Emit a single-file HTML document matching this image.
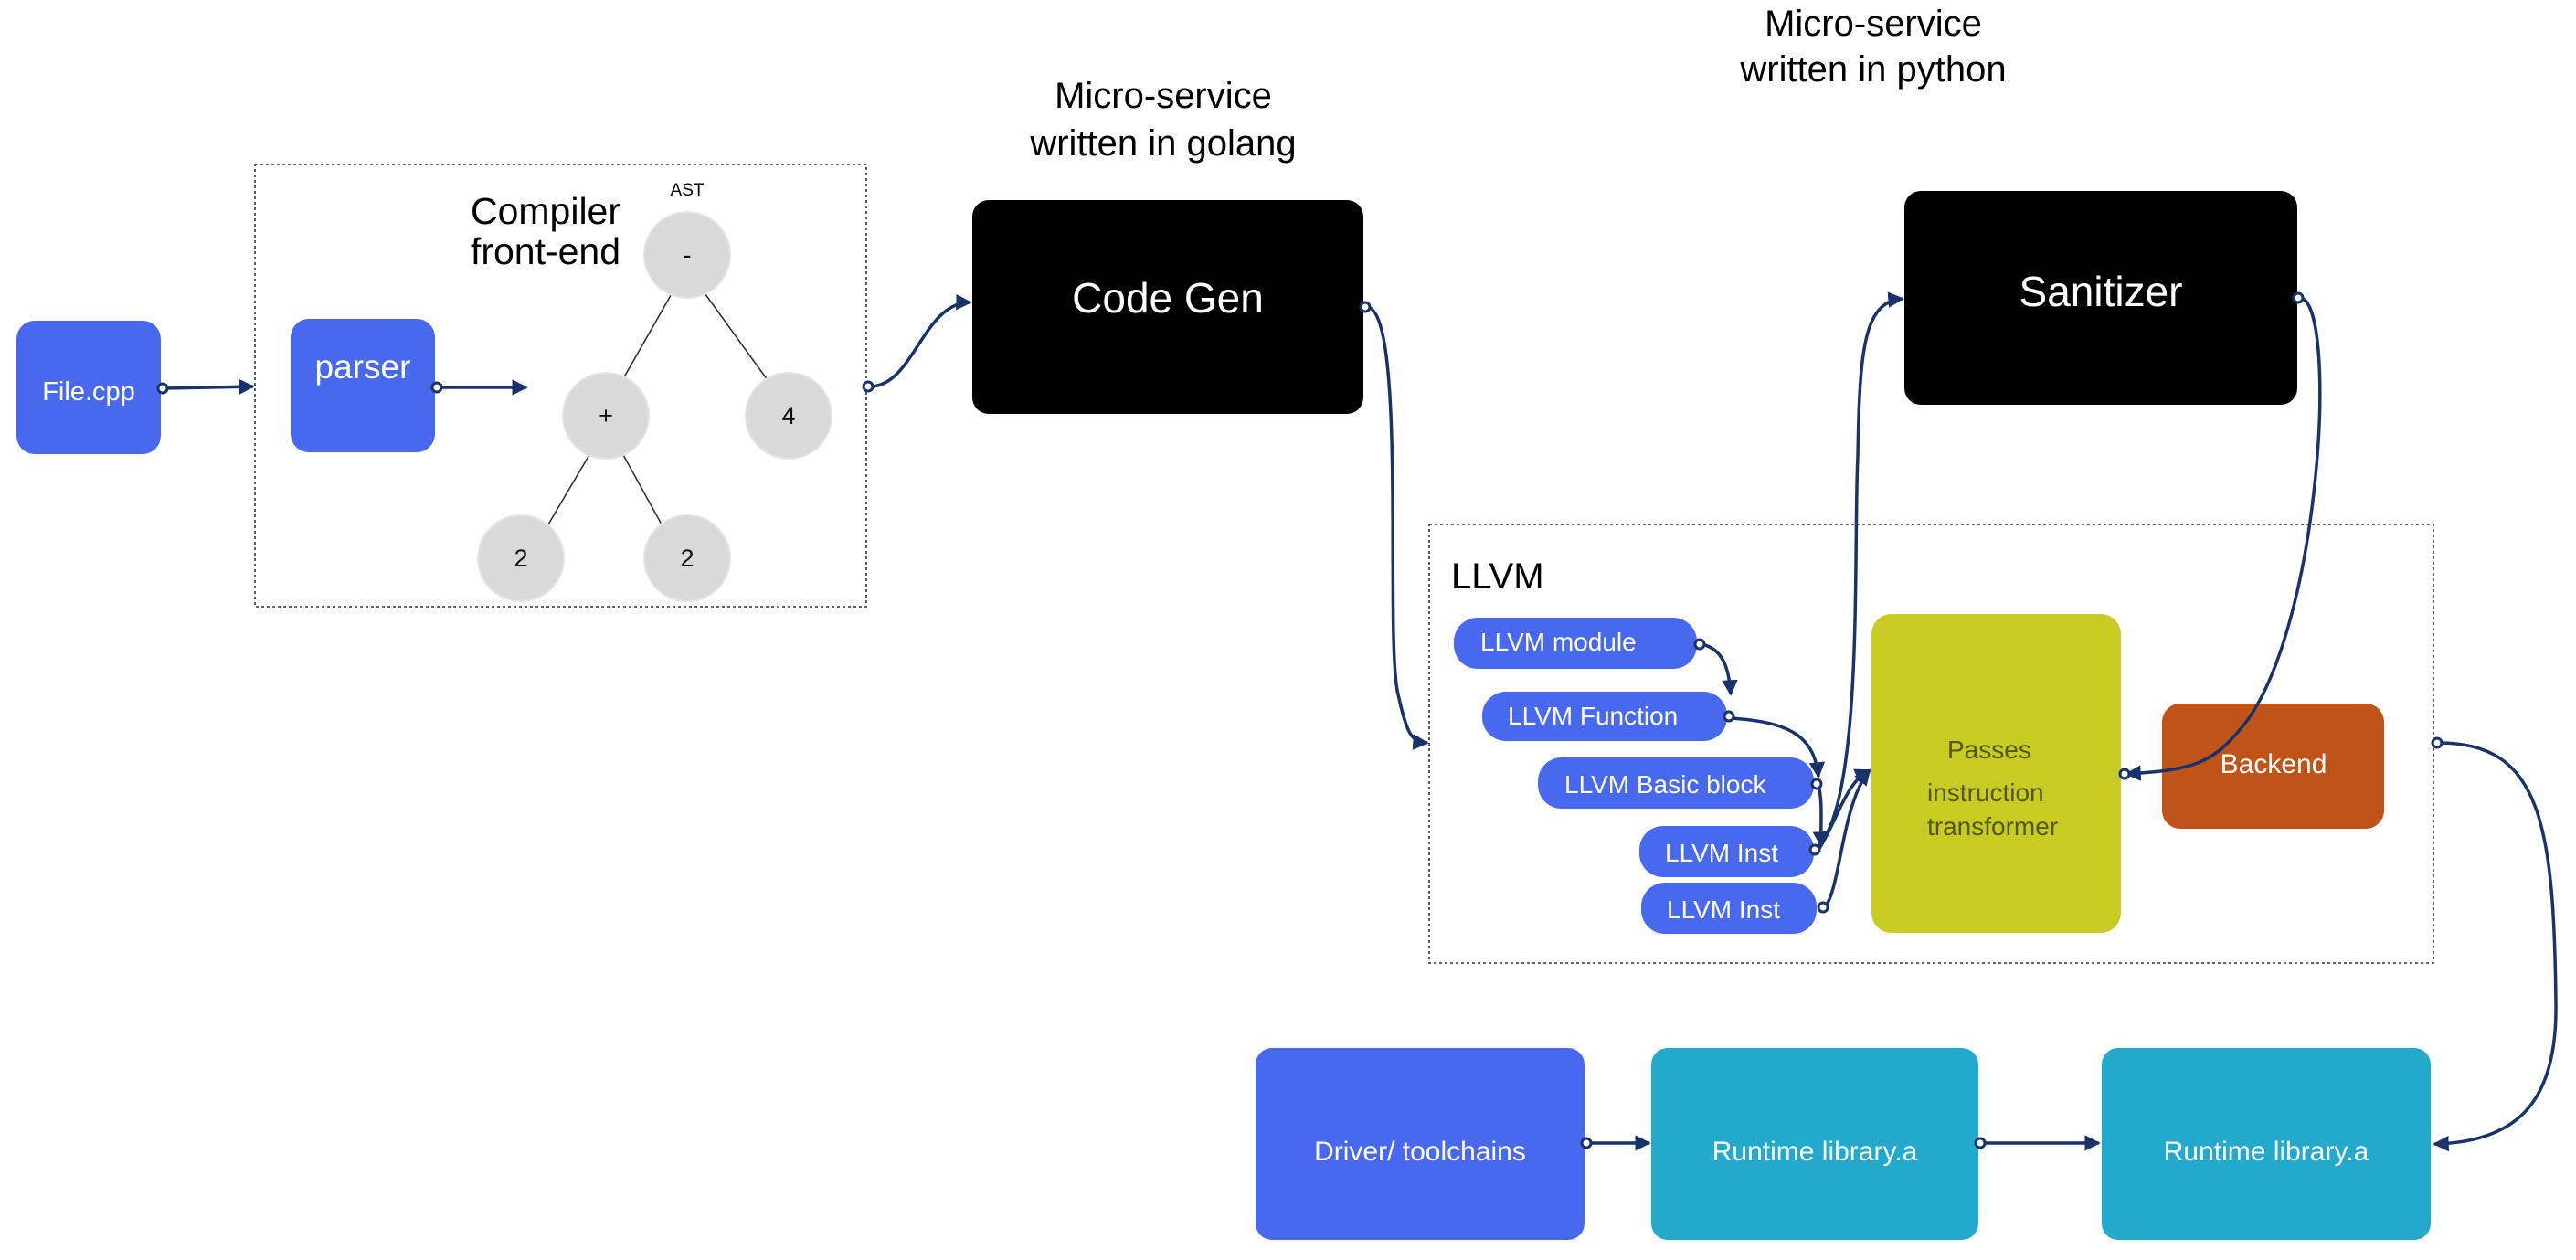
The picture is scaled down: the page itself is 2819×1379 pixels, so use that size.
<!DOCTYPE html>
<html><head><meta charset="utf-8"><style>
html,body{margin:0;padding:0;background:#fff;}
svg{display:block;font-family:"Liberation Sans",sans-serif;}
</style></head><body>
<svg width="2819" height="1379" viewBox="0 0 2819 1379" xmlns="http://www.w3.org/2000/svg">
<defs>
<marker id="ah" viewBox="0 0 10 10" refX="9" refY="5" markerWidth="5" markerHeight="5" orient="auto-start-reverse" markerUnits="strokeWidth">
<path d="M0,0 L10,5 L0,10 z" fill="#17336a"/></marker>
</defs>
<rect width="2819" height="1379" fill="#fff"/>

<rect x="279" y="180" width="669" height="484" fill="none" stroke="#333" stroke-width="1.6" stroke-dasharray="3,3"/>
<rect x="1564" y="574" width="1099" height="480" fill="none" stroke="#333" stroke-width="1.6" stroke-dasharray="3,3"/>

<rect x="18" y="351" width="158" height="146" rx="20" fill="#4869ee"/>
<text x="97" y="438" font-size="29" fill="#fff" text-anchor="middle">File.cpp</text>
<rect x="318" y="349" width="158" height="146" rx="20" fill="#4869ee"/>
<text x="397" y="414" font-size="37" fill="#fff" text-anchor="middle">parser</text>

<text x="597" y="245" font-size="41" fill="#000" text-anchor="middle">Compiler</text>
<text x="597" y="289" font-size="41" fill="#000" text-anchor="middle">front-end</text>
<text x="752" y="214" font-size="19" fill="#000" text-anchor="middle">AST</text>

<g stroke="#333" stroke-width="1.6">
<line x1="737" y1="318" x2="680" y2="418"/>
<line x1="769" y1="318" x2="840" y2="416"/>
<line x1="646" y1="496" x2="600" y2="574"/>
<line x1="681" y1="496" x2="724" y2="574"/>
</g>
<g fill="#d9d9d9" stroke="#e4e4e4" stroke-width="2">
<circle cx="752" cy="279" r="47"/>
<circle cx="663" cy="455" r="47"/>
<circle cx="863" cy="455" r="47"/>
<circle cx="570" cy="611" r="47"/>
<circle cx="752" cy="611" r="47"/>
</g>
<g font-size="27" fill="#111" text-anchor="middle">
<text x="752" y="288">-</text>
<text x="663" y="464">+</text>
<text x="863" y="464">4</text>
<text x="570" y="620">2</text>
<text x="752" y="620">2</text>
</g>

<text x="1273" y="118" font-size="40" fill="#000" text-anchor="middle">Micro-service</text>
<text x="1273" y="170" font-size="40" fill="#000" text-anchor="middle">written in golang</text>
<text x="2050" y="39" font-size="40" fill="#000" text-anchor="middle">Micro-service</text>
<text x="2050" y="89" font-size="40" fill="#000" text-anchor="middle">written in python</text>

<rect x="1064" y="219" width="428" height="234" rx="18" fill="#000"/>
<text x="1278" y="342" font-size="46" fill="#fff" text-anchor="middle">Code Gen</text>
<rect x="2084" y="209" width="430" height="234" rx="18" fill="#000"/>
<text x="2299" y="335" font-size="46" fill="#fff" text-anchor="middle">Sanitizer</text>

<text x="1588" y="644" font-size="40" fill="#000">LLVM</text>
<g fill="#4869ee">
<rect x="1591" y="676" width="266" height="56" rx="26"/>
<rect x="1622" y="757" width="268" height="54" rx="26"/>
<rect x="1683" y="829" width="302" height="56" rx="26"/>
<rect x="1794" y="904" width="191" height="56" rx="26"/>
<rect x="1796" y="966" width="192" height="56" rx="26"/>
</g>
<g font-size="28" fill="#fff">
<text x="1620" y="712">LLVM module</text>
<text x="1650" y="793">LLVM Function</text>
<text x="1712" y="868">LLVM Basic block</text>
<text x="1822" y="943">LLVM Inst</text>
<text x="1824" y="1005">LLVM Inst</text>
</g>
<rect x="2048" y="672" width="273" height="349" rx="22" fill="#c8cc22"/>
<g font-size="28" fill="#55561a">
<text x="2131" y="830">Passes</text>
<text x="2109" y="877">instruction</text>
<text x="2109" y="914">transformer</text>
</g>
<rect x="2366" y="770" width="243" height="137" rx="20" fill="#c05418"/>
<text x="2488" y="846" font-size="30" fill="#fff" text-anchor="middle">Backend</text>

<rect x="1374" y="1147" width="360" height="210" rx="18" fill="#4869ee"/>
<text x="1554" y="1270" font-size="30" fill="#fff" text-anchor="middle">Driver/ toolchains</text>
<rect x="1807" y="1147" width="358" height="210" rx="18" fill="#22a9cb"/>
<text x="1986" y="1270" font-size="30" fill="#fff" text-anchor="middle">Runtime library.a</text>
<rect x="2300" y="1147" width="360" height="210" rx="18" fill="#22a9cb"/>
<text x="2480" y="1270" font-size="30" fill="#fff" text-anchor="middle">Runtime library.a</text>

<g fill="none" stroke="#17336a" stroke-width="3.5" marker-end="url(#ah)">
<path d="M180,425 L277,423"/>
<path d="M480,424 L576,424"/>
<path d="M952,423 C1000,423 1010,330 1062,331"/>
<path d="M1496,336 C1540,340 1515,700 1530,760 C1540,805 1545,812 1562,813"/>
<path d="M1862,705 C1885,710 1892,730 1894,760"/>
<path d="M1894,786 C1950,790 1985,800 1990,850"/>
<path d="M1990,859 C1995,880 1992,900 1993,926"/>
<path d="M1990,930 C2010,900 2020,855 2046,843"/>
<path d="M1997,993 C2015,970 2015,880 2046,843"/>
<path d="M1988,928 C2040,880 2028,600 2033,500 C2035,380 2040,330 2082,327"/>
<path d="M2517,326 C2560,330 2540,700 2450,800 C2420,835 2400,843 2327,847"/>
<path d="M2669,813 C2780,813 2795,900 2797,1100 C2798,1200 2760,1250 2664,1252"/>
<path d="M1738,1251 L1805,1251"/>
<path d="M2169,1251 L2297,1251"/>
</g>
<g fill="#fff" stroke="#17336a" stroke-width="3">
<circle cx="178" cy="425" r="5"/>
<circle cx="478" cy="424" r="5"/>
<circle cx="950" cy="423" r="5"/>
<circle cx="1494" cy="336" r="5"/>
<circle cx="1860" cy="705" r="5"/>
<circle cx="1892" cy="784" r="5"/>
<circle cx="1988" cy="858" r="5"/>
<circle cx="1986" cy="930" r="5"/>
<circle cx="1995" cy="993" r="5"/>
<circle cx="2515" cy="326" r="5"/>
<circle cx="2325" cy="847" r="5"/>
<circle cx="2667" cy="813" r="5"/>
<circle cx="1736" cy="1251" r="5"/>
<circle cx="2167" cy="1251" r="5"/>
</g>
</svg>
</body></html>
